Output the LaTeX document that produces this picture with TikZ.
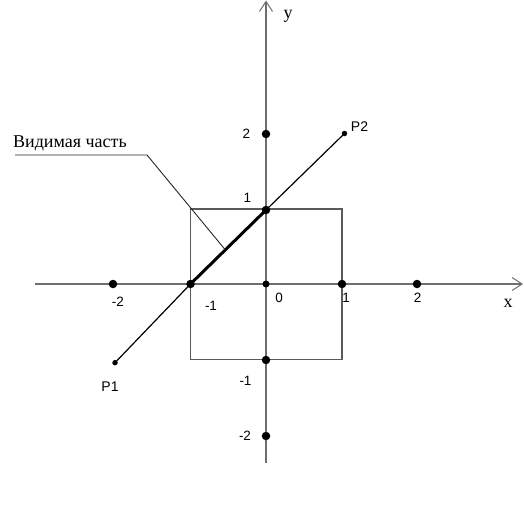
\documentclass[tikz,border=0pt]{standalone}
\usepackage{fontspec}
\setmainfont{Liberation Sans}
\newfontfamily\serifft{Liberation Serif}
\usetikzlibrary{arrows.meta,backgrounds}
\definecolor{axisgray}{RGB}{110,110,110}
\definecolor{boxgray}{RGB}{90,90,90}
\begin{document}
\begin{tikzpicture}[x=1pt,y=-1pt,
  bigdot/.style={circle,fill=black,inner sep=0pt,minimum size=8.5pt},
  middot/.style={circle,fill=black,inner sep=0pt,minimum size=7pt},
  smalldot/.style={circle,fill=black,inner sep=0pt,minimum size=5.5pt},
  axisline/.style={draw=axisgray,line width=1.4pt,-{Straight Barb[length=10pt,width=13pt,line width=1pt]}},
  boxline/.style={draw=boxgray,line width=1.1pt},
  pline/.style={draw=black,line width=1.2pt},
  visline/.style={draw=black,line width=3pt},
  leader/.style={draw=black!85,line width=0.9pt},
  num/.style={font=\fontsize{13.5}{15}\selectfont,inner sep=0pt},
  plab/.style={font=\fontsize{14}{16}\selectfont,inner sep=0pt},
  serlab/.style={font=\serifft\fontsize{18}{20}\selectfont,inner sep=0pt}]
\useasboundingbox (0,0) rectangle (524,511);
% axis ends
\coordinate (xs) at (35,284);
\coordinate (xe) at (523,284);
\coordinate (ys) at (266,463);
\coordinate (ye) at (266,0.5);
% square corners
\coordinate (sq1) at (190.5,209);
\coordinate (sq2) at (342,359.5);
% points
\node[middot] (o) at (266,284) {};
\node[bigdot] (xm2) at (113,284) {};
\node[bigdot] (xm1) at (190.5,284) {};
\node[bigdot] (x1) at (342,284) {};
\node[bigdot] (x2) at (417,284) {};
\node[bigdot] (y2) at (266,134) {};
\node[bigdot] (y1) at (266,210) {};
\node[bigdot] (ym1) at (266,360) {};
\node[bigdot] (ym2) at (266,436) {};
\node[smalldot] (p1) at (115,362.7) {};
\node[smalldot] (p2) at (344.5,133.5) {};
% labels
\node[serlab] (ylab) at (288,16) {y};
\node[serlab] (xlab) at (508,303) {x};
\node[num] at (246.5,134) {2};
\node[num] at (247.5,197.5) {1};
\node[num] at (279,298) {0};
\node[num] at (211,306) {-1};
\node[num] at (118,302) {-2};
\node[num] at (346,297.5) {1};
\node[num] at (417.5,297.5) {2};
\node[num] at (245.5,380.5) {-1};
\node[num] at (245,435.5) {-2};
\node[plab] (p1lab) at (110,387) {P1};
\node[plab] (p2lab) at (359.5,126.5) {P2};
\node[serlab,anchor=base west] (vis) at (13,147) {Видимая часть};
\coordinate (knee) at (147,155);
\coordinate (lstart) at (15,155);
\coordinate (lend) at (225,249.5);
\begin{pgfonlayer}{background}
  \draw[axisline] (xs) -- (xe);
  \draw[axisline] (ys) -- (ye);
  \draw[boxline] (sq1) rectangle (sq2);
  \draw[pline] (p1.center) -- (xm1.center) -- (y1.center) -- (p2.center);
  \draw[visline] (xm1.center) -- (y1.center);
  \draw[leader] (lstart) -- (knee) -- (lend);
\end{pgfonlayer}
\end{tikzpicture}
\end{document}
